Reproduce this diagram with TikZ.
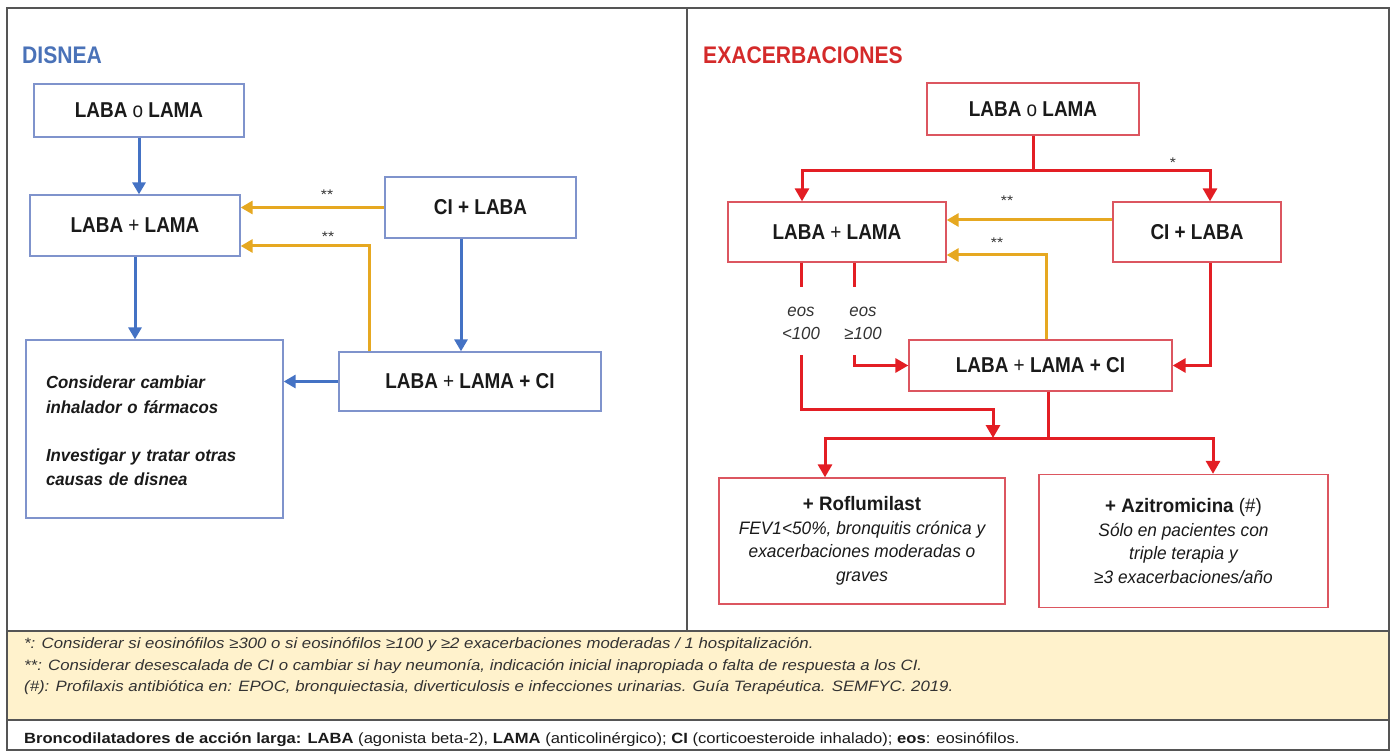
\documentclass[tikz,border=0pt]{standalone}
\usepackage{fontspec}
\setmainfont{Liberation Sans}[FakeStretch=0.88]
\newfontfamily\fB{Liberation Sans}[FakeStretch=0.96]
\newfontfamily\fW{Liberation Sans}[FakeStretch=1.12]
\usetikzlibrary{arrows.meta}
\definecolor{bluA}{HTML}{4472C4}
\definecolor{bluBox}{HTML}{7F93CC}
\definecolor{bluT}{HTML}{4A72B8}
\definecolor{yelA}{HTML}{E6A821}
\definecolor{redA}{HTML}{E31E24}
\definecolor{redBox}{HTML}{DC5660}
\definecolor{redT}{HTML}{D42A2A}
\definecolor{cream}{HTML}{FFF2CC}
\definecolor{frameC}{HTML}{555555}
\definecolor{txt}{HTML}{1A1A1A}
\definecolor{ftxt}{HTML}{333333}
\begin{document}
\begin{tikzpicture}[x=1pt,y=-1pt,
  lbox/.style={draw=bluBox,line width=1.3pt,inner sep=0pt,fill=white,text=txt},
  rbox/.style={draw=redBox,line width=1.3pt,inner sep=0pt,fill=white,text=txt},
  lbl/.style={font=\fontsize{21.5}{25}\selectfont},
  barr/.style={draw=bluA,line width=3pt,-{Triangle[width=13pt,length=12pt]}},
  yarr/.style={draw=yelA,line width=3pt,-{Triangle[width=13pt,length=12pt]}},
  rln/.style={draw=redA,line width=3pt},
  rarr/.style={draw=redA,line width=3pt,-{Triangle[width=14pt,length=13pt]}},
  star/.style={font=\fW\fontsize{14}{16}\selectfont,text=ftxt,inner sep=0pt},
  eos/.style={font=\fB\fontsize{17.5}{23}\selectfont\itshape,text=ftxt,align=center,inner sep=0pt},
  ftx/.style={font=\fW\fontsize{15}{18}\selectfont\itshape,text=ftxt,anchor=west,inner sep=0pt},
  ttl/.style={font=\fontsize{24}{28}\selectfont\bfseries,anchor=west,inner sep=0pt}
]
\useasboundingbox (0,0) rectangle (1394,751);
% frame
\fill[cream] (7,631) rectangle (1389,720);
\draw[frameC,line width=1.5pt] (7,8) rectangle (1389,750);
\draw[frameC,line width=1.5pt] (687,8) -- (687,631);
\draw[frameC,line width=1.5pt] (7,631) -- (1389,631);
\draw[frameC,line width=1.5pt] (7,720) -- (1389,720);

% titles
\node[ttl,text=bluT] (tD) at (22,55) {DISNEA};
\node[ttl,text=redT] (tE) at (703,55) {EXACERBACIONES};

% left boxes
\node[lbox,lbl,minimum width=210pt,minimum height=53pt] (l1) at (139,110.5) {\textbf{LABA} o \textbf{LAMA}};
\node[lbox,lbl,minimum width=210pt,minimum height=61pt] (l2) at (135,225.5) {\textbf{LABA} + \textbf{LAMA}};
\node[lbox,lbl,minimum width=191pt,minimum height=61pt] (l3) at (480.5,207.5) {\textbf{CI + LABA}};
\node[lbox,minimum width=257pt,minimum height=178pt,text width=217pt,align=left,
  font=\fB\fontsize{17.5}{24.5}\selectfont\bfseries\itshape] (l4) at (154.5,429)
  {\vphantom{Ij}\\[-21pt]Considerar cambiar\\inhalador o fármacos\\[23.5pt]Investigar y tratar otras\\causas de disnea};
\node[lbox,lbl,minimum width=262pt,minimum height=59pt] (l5) at (470,381.5) {\textbf{LABA} + \textbf{LAMA + CI}};

% left connectors
\draw[barr] (l1.south) -- (l1.south |- l2.north);
\draw[barr] (l2.south) -- (l2.south |- l4.north);
\coordinate (b3) at (461,0);
\draw[barr] (b3 |- l3.south) -- (b3 |- l5.north);
\draw[barr] (l5.west) -- (l5.west -| l4.east);
\draw[yarr] (l3.west) -- (l3.west -| l2.east);
\coordinate (y2) at (369,246);
\draw[yarr] (y2 |- l5.north) -- (y2) -- (y2 -| l2.east);
\node[star] (s1) at (327,195) {**};
\node[star] (s2) at (328,237) {**};

% right boxes
\node[rbox,lbl,minimum width=212pt,minimum height=52pt] (r1) at (1033,109) {\textbf{LABA} o \textbf{LAMA}};
\node[rbox,lbl,minimum width=218pt,minimum height=60pt] (r2) at (837,232) {\textbf{LABA} + \textbf{LAMA}};
\node[rbox,lbl,minimum width=168pt,minimum height=60pt] (r3) at (1197,232) {\textbf{CI + LABA}};
\node[rbox,lbl,minimum width=263pt,minimum height=51pt] (r4) at (1040.5,365.5) {\textbf{LABA} + \textbf{LAMA + CI}};
\node[rbox,minimum width=286pt,minimum height=126pt,align=center,
  font=\fB\fontsize{18}{23.5}\selectfont\itshape] (r5) at (862,541)
  {{\fontsize{19.5}{23.5}\selectfont\bfseries\upshape + Roflumilast}\\FEV1<50\%, bronquitis crónica y\\exacerbaciones moderadas o\\graves};
\node[rbox,minimum width=289pt,minimum height=133pt,align=center,
  font=\fB\fontsize{18}{23.5}\selectfont\itshape] (r6) at (1183.5,541)
  {{\fontsize{19.5}{23.5}\selectfont\upshape\textbf{+ Azitromicina} (\#)}\\Sólo en pacientes con\\triple terapia y\\≥3 exacerbaciones/año};

% right connectors
\coordinate (a1) at (802,171);
\coordinate (a2) at (1210,171);
\draw[rln] (r1.south) -- (r1.south |- a1);
\draw[rarr] (a1 -| r1.south) -- (a1) -- (a1 |- r2.north);
\draw[rarr] (a1 -| r1.south) -- (a2) -- (a2 |- r3.north);
\node[star] (s3) at (1173,163) {*};

\coordinate (ya) at (0,220);
\draw[yarr] (r3.west |- ya) -- (r2.east |- ya);
\coordinate (yb) at (1046,255);
\draw[yarr] (yb |- r4.north) -- (yb) -- (yb -| r2.east);
\node[star] (s4) at (1007,201) {**};
\node[star] (s5) at (997,243) {**};

\coordinate (e1) at (801,287);
\coordinate (e2) at (854,287);
\draw[rln] (e1 |- r2.south) -- (e1);
\draw[rln] (e2 |- r2.south) -- (e2);
\node[eos] (q1) at (801,323) {eos\\<100};
\node[eos] (q2) at (863,323) {eos\\≥100};
\coordinate (e1b) at (801,355);
\coordinate (m1) at (993,409);
\coordinate (h1) at (825,438);
\coordinate (h2) at (1213,438);
\draw[rarr] (e1b) |- (m1) -- (m1 |- h1);
\coordinate (e2b) at (854,355);
\draw[rarr] (e2b) |- (r4.west);
\coordinate (c3) at (1210,0);
\draw[rarr] (c3 |- r3.south) |- (r4.east);
\coordinate (c4) at (1048,0);
\draw[rln] (c4 |- r4.south) -- (c4 |- h1);
\draw[rarr] (h1 -| c4) -- (h1) -- (h1 |- r5.north);
\draw[rarr] (h1 -| c4) -- (h2) -- (h2 |- r6.north);

% footer
\node[ftx] (f1) at (24,645) {*: Considerar si eosinófilos ≥300 o si eosinófilos ≥100 y ≥2 exacerbaciones moderadas / 1 hospitalización.};
\node[ftx] (f2) at (24,666.5) {**: Considerar desescalada de CI o cambiar si hay neumonía, indicación inicial inapropiada o falta de respuesta a los CI.};
\node[ftx] (f3) at (24,688) {(\#): Profilaxis antibiótica en: EPOC, bronquiectasia, diverticulosis e infecciones urinarias. Guía Terapéutica. SEMFYC. 2019.};
\node[ftx,font=\fW\fontsize{14.8}{17}\selectfont,text=txt] (f4) at (24,740) {\textbf{Broncodilatadores de acción larga: LABA} (agonista beta-2), \textbf{LAMA} (anticolinérgico); \textbf{CI} (corticoesteroide inhalado); \textbf{eos}: eosinófilos.};
\end{tikzpicture}
\end{document}
